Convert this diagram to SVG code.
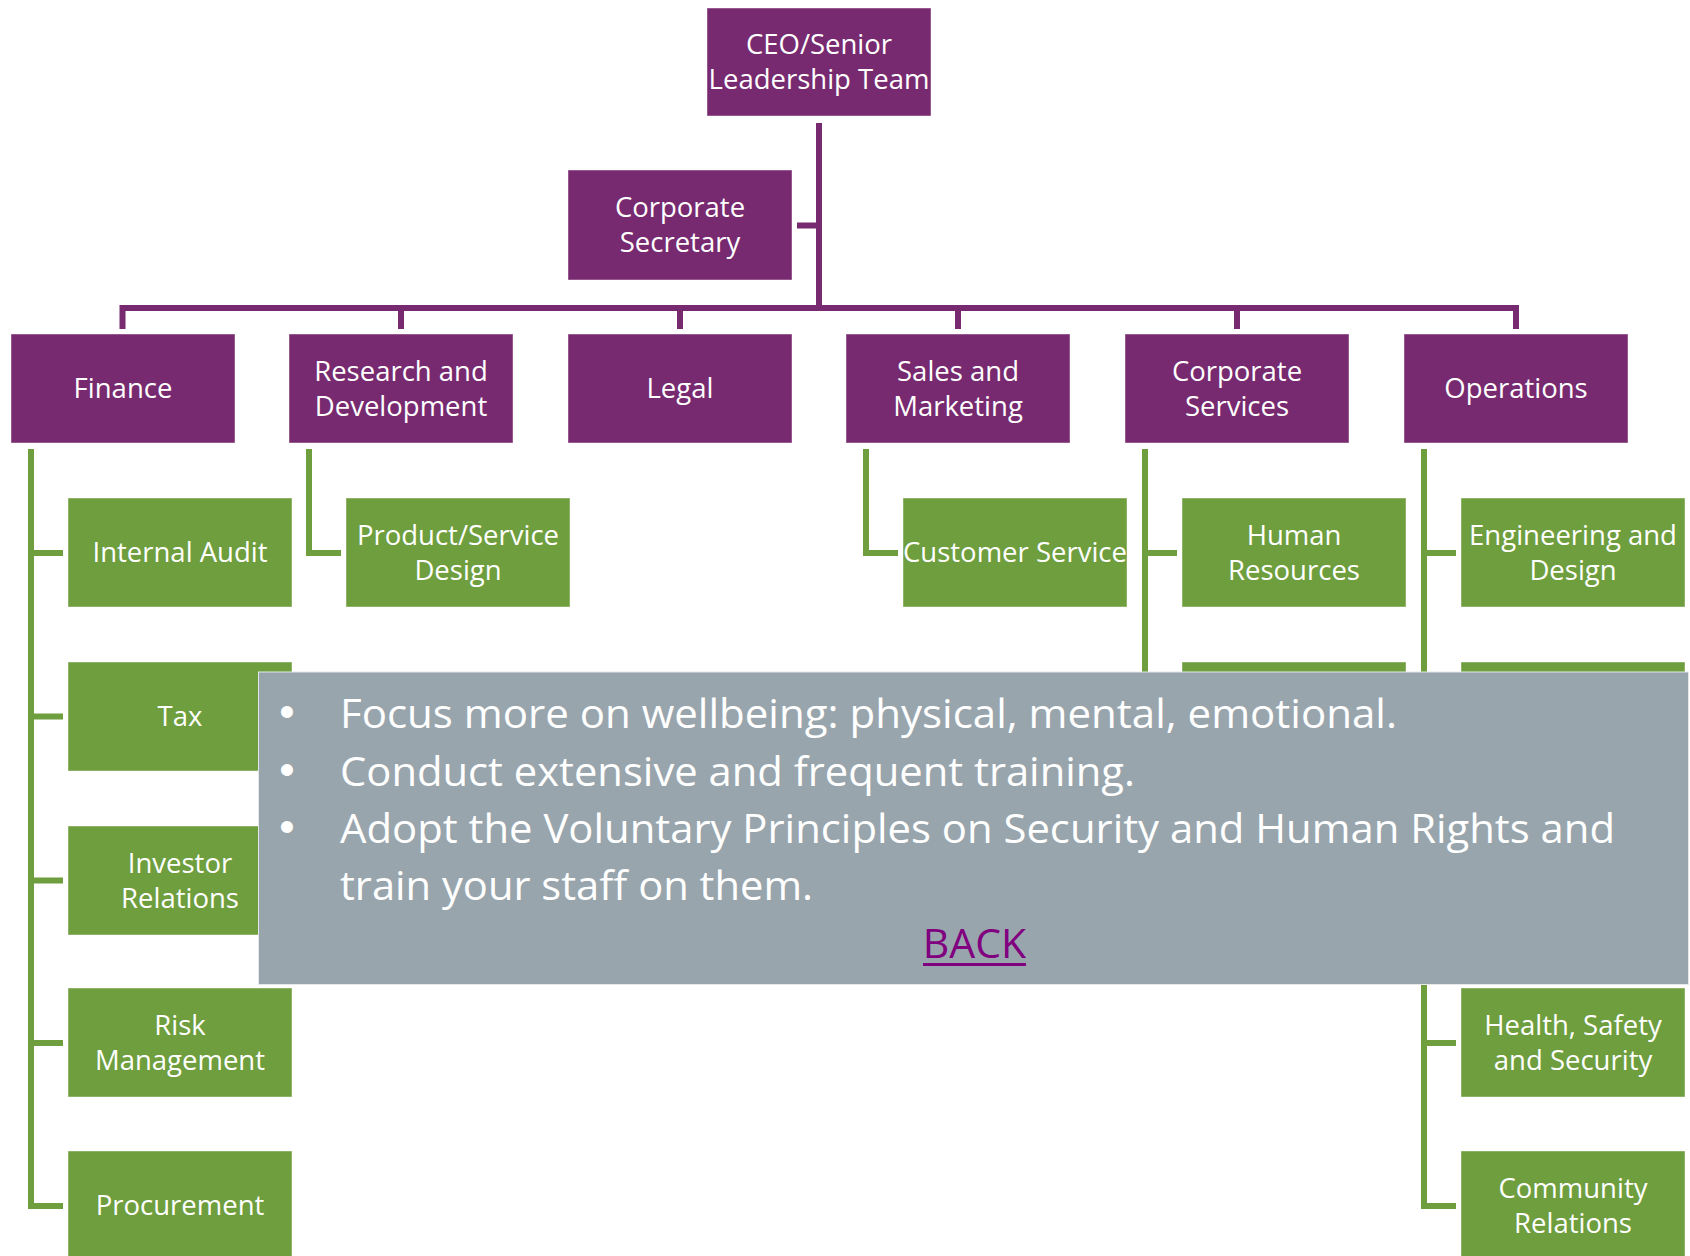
<svg xmlns="http://www.w3.org/2000/svg" width="1690" height="1256" viewBox="0 0 1690 1256">
<style>
.p{fill:#772A70;stroke:#ffffff;stroke-opacity:.45;stroke-width:1}
.g{fill:#6E9E3D;stroke:#ffffff;stroke-opacity:.45;stroke-width:1}
.t{font-family:"Open Sans","Noto Sans",sans-serif;font-size:27.5px;fill:#ffffff;text-anchor:middle}
.pl{fill:none;stroke:#772A70;stroke-width:6;stroke-linejoin:miter}
.gl{fill:none;stroke:#6E9E3D;stroke-width:6;stroke-linejoin:miter}
.o{font-family:"Open Sans","Noto Sans",sans-serif;font-size:41px;fill:#ffffff}
.b{font-family:"Liberation Sans",Arial,sans-serif;font-size:44px;fill:#ffffff;text-anchor:middle}
</style>
<rect width="1690" height="1256" fill="#ffffff"/>
<g id="connectors">
<path class="pl" d="M819 123V308M797 225.5H819M122.5 329V308H1516V329M401 308V329M680 308V329M958 308V329M1237 308V329"/>
<path class="gl" d="M31 449V1206H63M31 553H63M31 716.5H63M31 880.5H63M31 1043H63"/>
<path class="gl" d="M309 449V553H341"/>
<path class="gl" d="M866 449V553H898"/>
<path class="gl" d="M1145 449V716.5H1177M1145 553H1177"/>
<path class="gl" d="M1424 449V1206H1456M1424 553H1456M1424 716.5H1456M1424 880.5H1456M1424 1043H1456"/>
</g>
<g id="ceo"><rect class="p" x="707" y="8" width="224" height="108"/><text class="t" x="819" y="54">CEO/Senior</text><text class="t" x="819" y="89">Leadership Team</text></g>
<g id="corporate-secretary"><rect class="p" x="568" y="170" width="224" height="110"/><text class="t" x="680" y="217">Corporate</text><text class="t" x="680" y="252">Secretary</text></g>
<g id="finance"><rect class="p" x="11" y="334" width="224" height="109"/><text class="t" x="123" y="398">Finance</text></g>
<g id="research"><rect class="p" x="289" y="334" width="224" height="109"/><text class="t" x="401" y="381">Research and</text><text class="t" x="401" y="416">Development</text></g>
<g id="legal"><rect class="p" x="568" y="334" width="224" height="109"/><text class="t" x="680" y="398">Legal</text></g>
<g id="sales"><rect class="p" x="846" y="334" width="224" height="109"/><text class="t" x="958" y="381">Sales and</text><text class="t" x="958" y="416">Marketing</text></g>
<g id="corporate-services"><rect class="p" x="1125" y="334" width="224" height="109"/><text class="t" x="1237" y="381">Corporate</text><text class="t" x="1237" y="416">Services</text></g>
<g id="operations"><rect class="p" x="1404" y="334" width="224" height="109"/><text class="t" x="1516" y="398">Operations</text></g>
<g id="internal-audit"><rect class="g" x="68" y="498" width="224" height="109"/><text class="t" x="180" y="562">Internal Audit</text></g>
<g id="tax"><rect class="g" x="68" y="662" width="224" height="109"/><text class="t" x="180" y="726">Tax</text></g>
<g id="investor-relations"><rect class="g" x="68" y="826" width="224" height="109"/><text class="t" x="180" y="873">Investor</text><text class="t" x="180" y="908">Relations</text></g>
<g id="risk-management"><rect class="g" x="68" y="988" width="224" height="109"/><text class="t" x="180" y="1035">Risk</text><text class="t" x="180" y="1070">Management</text></g>
<g id="procurement"><rect class="g" x="68" y="1151" width="224" height="109"/><text class="t" x="180" y="1215">Procurement</text></g>
<g id="product-service-design"><rect class="g" x="346" y="498" width="224" height="109"/><text class="t" x="458" y="545">Product/Service</text><text class="t" x="458" y="580">Design</text></g>
<g id="customer-service"><rect class="g" x="903" y="498" width="224" height="109"/><text class="t" x="1015" y="562">Customer Service</text></g>
<g id="human-resources"><rect class="g" x="1182" y="498" width="224" height="109"/><text class="t" x="1294" y="545">Human</text><text class="t" x="1294" y="580">Resources</text></g>
<g id="corporate-services-2"><rect class="g" x="1182" y="662" width="224" height="109"/></g>
<g id="engineering-design"><rect class="g" x="1461" y="498" width="224" height="109"/><text class="t" x="1573" y="545">Engineering and</text><text class="t" x="1573" y="580">Design</text></g>
<g id="operations-2"><rect class="g" x="1461" y="662" width="224" height="109"/></g>
<g id="health-safety"><rect class="g" x="1461" y="988" width="224" height="109"/><text class="t" x="1573" y="1035">Health, Safety</text><text class="t" x="1573" y="1070">and Security</text></g>
<g id="community-relations"><rect class="g" x="1461" y="1151" width="224" height="109"/><text class="t" x="1573" y="1198">Community</text><text class="t" x="1573" y="1233">Relations</text></g>
<g id="overlay">
<rect x="258.5" y="672" width="1430" height="312.5" fill="#99A5AD" stroke="#e4e8ea" stroke-width="1"/>
<text class="b" x="287" y="727">•</text>
<text class="b" x="287" y="785">•</text>
<text class="b" x="287" y="842">•</text>
<text class="o" x="340" y="728" textLength="1057" lengthAdjust="spacingAndGlyphs">Focus more on wellbeing: physical, mental, emotional.</text>
<text class="o" x="340" y="786" textLength="795" lengthAdjust="spacingAndGlyphs">Conduct extensive and frequent training.</text>
<text class="o" x="340" y="843" textLength="1275" lengthAdjust="spacingAndGlyphs">Adopt the Voluntary Principles on Security and Human Rights and</text>
<text class="o" x="340" y="900" textLength="473" lengthAdjust="spacingAndGlyphs">train your staff on them.</text>
<text class="o" x="974.5" y="958" text-anchor="middle" style="fill:#800080">BACK</text>
<rect x="923" y="963" width="103" height="3" fill="#800080"/>
</g>
</svg>
